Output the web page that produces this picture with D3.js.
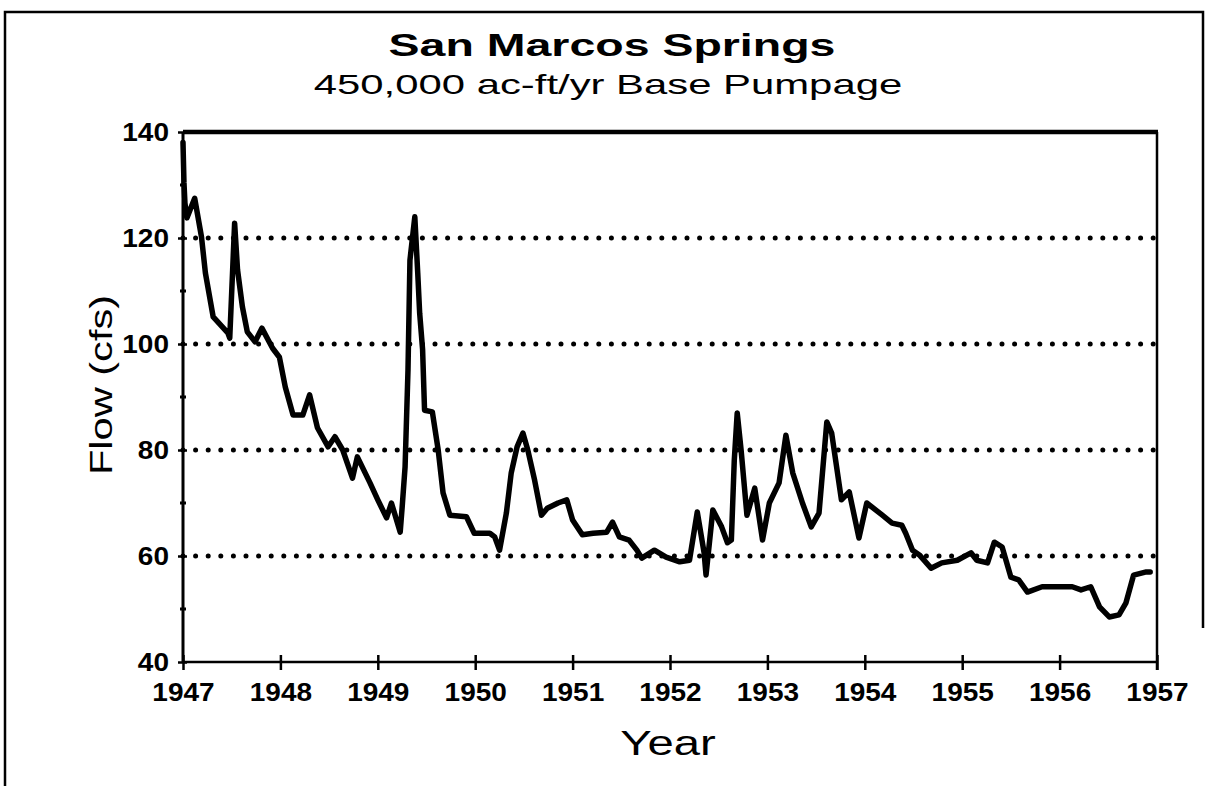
<!DOCTYPE html>
<html>
<head>
<meta charset="utf-8">
<script src="https://cdn.jsdelivr.net/npm/d3@7"></script>
<style>
  html, body { margin: 0; padding: 0; background: #fff; }
  svg { display: block; }
</style>
</head>
<body>
<svg id="chart" width="1206" height="786"></svg>
<script>
// Simulated spring flow, San Marcos Springs (cfs), by decimal year
const decYear = [
  1947.00, 1947.01, 1947.02, 1947.04, 1947.12, 1947.19, 1947.23, 1947.31, 1947.46, 1947.48,
  1947.53, 1947.56, 1947.61, 1947.66, 1947.74, 1947.81, 1947.92, 1947.99, 1948.05, 1948.13,
  1948.23, 1948.30, 1948.38, 1948.49, 1948.56, 1948.64, 1948.74, 1948.79, 1948.92, 1949.00,
  1949.09, 1949.14, 1949.23, 1949.25, 1949.28, 1949.31, 1949.33, 1949.38, 1949.41, 1949.43,
  1949.46, 1949.48, 1949.56, 1949.62, 1949.67, 1949.74, 1949.91, 1949.99, 1950.15, 1950.20,
  1950.25, 1950.32, 1950.37, 1950.43, 1950.49, 1950.54, 1950.61, 1950.68, 1950.74, 1950.85,
  1950.94, 1951.00, 1951.10, 1951.21, 1951.35, 1951.41, 1951.48, 1951.58, 1951.66, 1951.71,
  1951.84, 1951.96, 1952.10, 1952.20, 1952.28, 1952.35, 1952.37, 1952.44, 1952.53, 1952.59,
  1952.63, 1952.66, 1952.69, 1952.73, 1952.79, 1952.87, 1952.95, 1953.02, 1953.12, 1953.19,
  1953.26, 1953.36, 1953.45, 1953.53, 1953.61, 1953.66, 1953.76, 1953.84, 1953.94, 1954.02,
  1954.18, 1954.28, 1954.38, 1954.42, 1954.49, 1954.56, 1954.68, 1954.79, 1954.95, 1955.09,
  1955.15, 1955.26, 1955.33, 1955.41, 1955.50, 1955.58, 1955.67, 1955.82, 1955.99, 1956.13,
  1956.22, 1956.32, 1956.41, 1956.51, 1956.61, 1956.68, 1956.76, 1956.89, 1956.93
];
const flowCfs = [
  138.0, 130.4, 126.6, 123.8, 127.5, 120.2, 113.4, 105.1, 102.1, 101.1,
  122.8, 114.0, 107.0, 102.3, 100.4, 103.0, 99.2, 97.5, 91.9, 86.6,
  86.6, 90.4, 84.2, 80.6, 82.5, 80.0, 74.7, 78.7, 73.8, 70.6,
  67.2, 70.0, 64.5, 69.2, 76.8, 95.1, 115.8, 124.0, 113.4, 105.8,
  98.9, 87.5, 87.2, 80.0, 71.9, 67.7, 67.4, 64.3, 64.3, 63.6,
  61.1, 68.1, 75.7, 80.6, 83.2, 80.0, 74.3, 67.7, 69.0, 70.0,
  70.6, 66.8, 64.0, 64.3, 64.5, 66.4, 63.6, 63.0, 61.1, 59.6,
  61.1, 59.8, 58.9, 59.2, 68.3, 60.6, 56.4, 68.7, 65.5, 62.5,
  63.0, 78.1, 87.0, 80.0, 67.7, 72.8, 63.0, 70.0, 73.8, 82.8,
  75.7, 70.0, 65.5, 68.1, 85.3, 83.2, 70.6, 72.1, 63.4, 70.0,
  67.7, 66.2, 65.8, 64.3, 61.1, 60.2, 57.7, 58.7, 59.2, 60.6,
  59.2, 58.7, 62.6, 61.7, 56.0, 55.5, 53.2, 54.2, 54.2, 54.2,
  53.6, 54.2, 50.4, 48.5, 48.9, 51.1, 56.4, 57.0, 57.0
];

const yearTicks = [1947, 1948, 1949, 1950, 1951, 1952, 1953, 1954, 1955, 1956, 1957];
const flowTicks = [40, 60, 80, 100, 120, 140];
const flowMinorTicks = [50, 70, 90, 110, 130];
const gridFlows = [60, 80, 100, 120];

const titleText = "San Marcos Springs";
const subtitleText = "450,000 ac-ft/yr Base Pumpage";
const xTitle = "Year";
const yTitle = "Flow (cfs)";

const FONT = "'Liberation Sans', Arial, Helvetica, sans-serif";
const svg = d3.select("#chart");

const plot = { left: 183, right: 1157, top: 132, bottom: 662 };

const x = d3.scaleLinear().domain([1947, 1957]).range([plot.left, plot.right]);
const y = d3.scaleLinear().domain([40, 140]).range([plot.bottom, plot.top]);

// outer frame (open at the lower right)
svg.append("path")
  .attr("d", "M1203,628 V12 H5 V786")
  .attr("fill", "none").attr("stroke", "#000").attr("stroke-width", 2.5);

// stretched text helper
function label(txt, cx, cy, opts) {
  const g = svg.append("g").attr("transform",
    `translate(${cx},${cy}) rotate(${opts.rotate || 0}) scale(${opts.sx || 1},1)`);
  g.append("text")
    .attr("text-anchor", opts.anchor || "middle")
    .attr("font-family", FONT)
    .attr("font-size", opts.size)
    .attr("font-weight", opts.weight || "normal")
    .attr("fill", "#000")
    .text(txt);
  return g;
}

label(titleText, 612, 56, { size: 31, weight: "bold", sx: 1.5 });
label(subtitleText, 608, 94, { size: 27, sx: 1.55 });

// dotted gridlines
svg.append("g").selectAll("line").data(gridFlows).join("line")
  .attr("x1", plot.left).attr("x2", plot.right)
  .attr("y1", d => y(d)).attr("y2", d => y(d))
  .attr("stroke", "#000").attr("stroke-width", 5)
  .attr("stroke-linecap", "round")
  .attr("stroke-dasharray", "0,12.6");

// top and right borders of the plot
svg.append("line")
  .attr("x1", plot.left).attr("x2", plot.right + 1)
  .attr("y1", y(140)).attr("y2", y(140))
  .attr("stroke", "#000").attr("stroke-width", 4.5);
svg.append("line")
  .attr("x1", plot.right).attr("x2", plot.right)
  .attr("y1", y(140)).attr("y2", plot.bottom + 8)
  .attr("stroke", "#000").attr("stroke-width", 2.5);

// x axis
const xAxis = svg.append("g")
  .attr("transform", `translate(0,${plot.bottom})`)
  .call(d3.axisBottom(x).tickValues(yearTicks).tickFormat(d3.format("d")).tickSize(8).tickPadding(13));
xAxis.select(".domain").attr("stroke-width", 2.5).attr("d", `M${plot.left},0H${plot.right}`);
xAxis.selectAll(".tick line").attr("y1", -7).attr("stroke-width", 2.5);
xAxis.selectAll(".tick text")
  .attr("font-family", FONT).attr("font-size", 25).attr("font-weight", "bold")
  .attr("fill", "#000")
  .attr("transform", "scale(1.12,1)");

// y axis
const yAxis = svg.append("g")
  .attr("transform", `translate(${plot.left},0)`)
  .call(d3.axisLeft(y).tickValues(flowTicks).tickSize(5).tickPadding(12));
yAxis.select(".domain").attr("stroke-width", 3).attr("d", `M0,${plot.bottom}V${plot.top}`);
yAxis.selectAll(".tick line").attr("x2", -5).attr("x1", 4).attr("stroke-width", 2.5);
yAxis.selectAll(".tick text")
  .attr("font-family", FONT).attr("font-size", 25).attr("font-weight", "bold")
  .attr("fill", "#000")
  .attr("x", -14 / 1.12)
  .attr("transform", "scale(1.12,1)");
yAxis.append("g").selectAll("line").data(flowMinorTicks).join("line")
  .attr("x1", -3).attr("x2", 3)
  .attr("y1", d => y(d)).attr("y2", d => y(d))
  .attr("stroke", "#000").attr("stroke-width", 3);

// axis titles
label(xTitle, 668, 755, { size: 35, sx: 1.35 });
label(yTitle, 112, 385, { size: 32, sx: 1.3, rotate: -90 });

// flow series
const series = decYear.map((t, i) => ({ t, v: flowCfs[i] }));
svg.append("path")
  .datum(series)
  .attr("fill", "none")
  .attr("stroke", "#000")
  .attr("stroke-width", 5.5)
  .attr("stroke-linejoin", "round")
  .attr("stroke-linecap", "round")
  .attr("d", d3.line().x(d => x(d.t)).y(d => y(d.v)));
</script>
</body>
</html>
